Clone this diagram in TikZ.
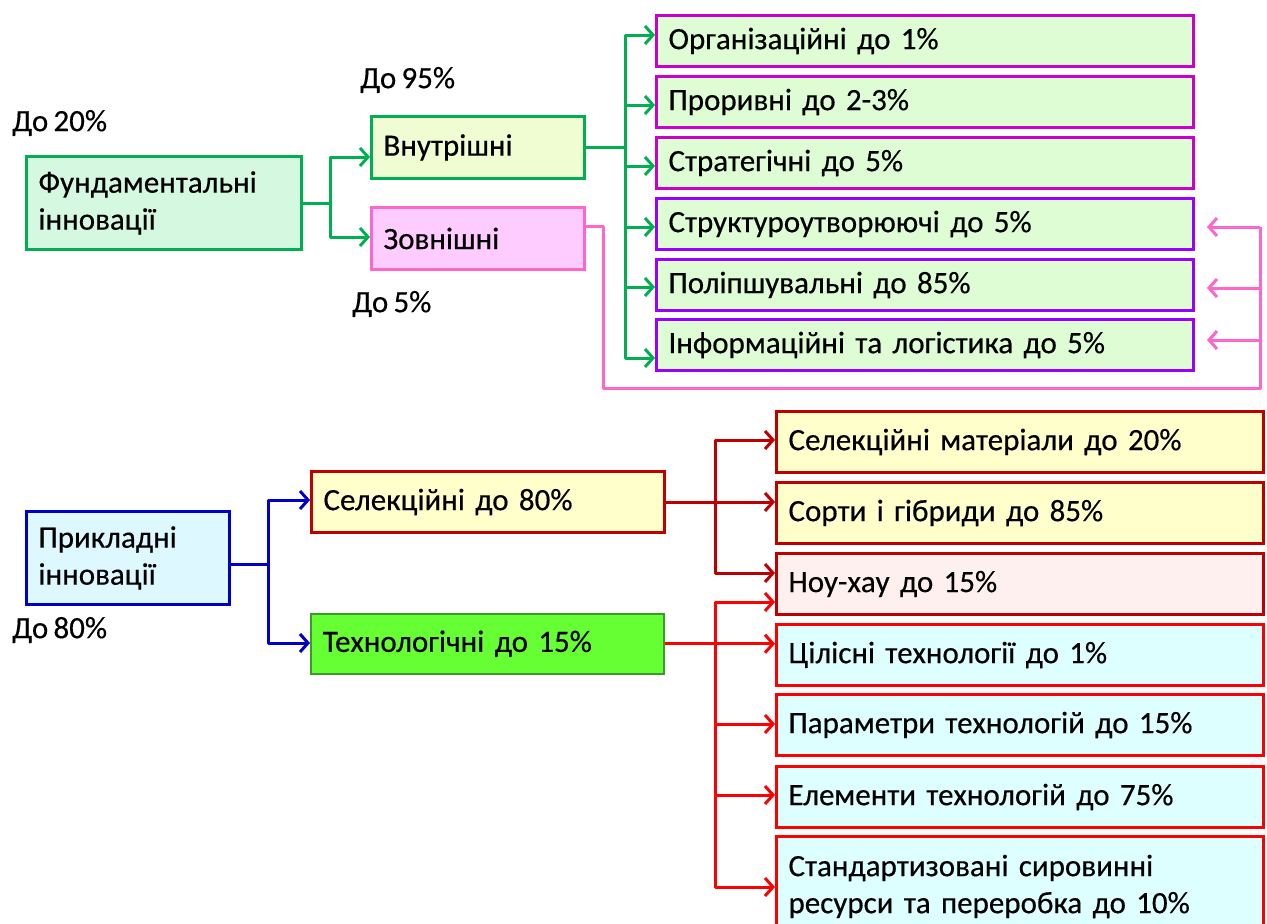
\documentclass[tikz,border=0pt]{standalone}
\usepackage{fontspec}
\setmainfont{Carlito}[FakeBold=0.4,WordSpace=0.75]
\usetikzlibrary{arrows.meta,calc}
\definecolor{cGreen}{HTML}{00B050}
\definecolor{cFundFill}{HTML}{D5F8E0}
\definecolor{cVnFill}{HTML}{F0FCD2}
\definecolor{cPink}{HTML}{FF66CC}
\definecolor{cZvFill}{HTML}{FFCCFF}
\definecolor{cMag}{HTML}{CC00CC}
\definecolor{cViol}{HTML}{9900FF}
\definecolor{cRFill}{HTML}{DEFDD5}
\definecolor{cBlue}{HTML}{0000CC}
\definecolor{cPrFill}{HTML}{DDF9FF}
\definecolor{cDRed}{HTML}{C00000}
\definecolor{cRed}{HTML}{FF0000}
\definecolor{cYel}{HTML}{FFFFCC}
\definecolor{cTech}{HTML}{66FF33}
\definecolor{cTechB}{HTML}{3A9A2A}
\definecolor{cRose}{HTML}{FFF0F0}
\definecolor{cCyan}{HTML}{DDFFFF}
\begin{document}
\begin{tikzpicture}[x=1pt,y=-1pt,
  font=\fontsize{31}{37}\selectfont,
  box/.style={draw, line width=3pt, rectangle, anchor=north west, align=left, inner xsep=12pt, inner ysep=0pt},
  conn/.style={line width=3pt, line join=round},
  arr/.style={-{Straight Barb[length=8pt,width=18pt]}},
  lbl/.style={anchor=west, inner sep=0pt}
]
\clip (0,0) rectangle (1267,924);
\fill[white] (0,0) rectangle (1267,924);

% top section boxes
\node[box, draw=cGreen, fill=cFundFill, text width=251pt, minimum height=93pt] (fund) at (25,155) {Фундаментальні\\інновації};
\node[box, draw=cGreen, fill=cVnFill, text width=189pt, minimum height=62pt] (vn) at (370,115) {Внутрішні};
\node[box, draw=cPink, fill=cZvFill, text width=189pt, minimum height=62pt] (zv) at (370,206) {Зовнішні};

\node[box, draw=cMag, fill=cRFill, text width=513pt, minimum height=51pt] (r1) at (655,14) {Організаційні до 1\%};
\node[box, draw=cMag, fill=cRFill, text width=513pt, minimum height=51pt] (r2) at (655,75) {Проривні до 2-3\%};
\node[box, draw=cMag, fill=cRFill, text width=513pt, minimum height=51pt] (r3) at (655,136) {Стратегічні до 5\%};
\node[box, draw=cViol, fill=cRFill, text width=513pt, minimum height=51pt] (r4) at (655,197) {Структуроутворюючі до 5\%};
\node[box, draw=cViol, fill=cRFill, text width=513pt, minimum height=51pt] (r5) at (655,258) {Поліпшувальні до 85\%};
\node[box, draw=cViol, fill=cRFill, text width=513pt, minimum height=51pt] (r6) at (655,318) {Інформаційні та логістика до 5\%};

\node[lbl] (l20) at (12,123) {До 20\%};
\node[lbl] (l95) at (360,80) {До 95\%};
\node[lbl] (l5) at (352,304) {До 5\%};
\node[lbl] (l80) at (12,630) {До 80\%};

% bottom section boxes
\node[box, draw=cBlue, fill=cPrFill, text width=179pt, minimum height=93pt] (pr) at (25,510) {Прикладні\\інновації};
\node[box, draw=cDRed, fill=cYel, text width=329pt, minimum height=61pt] (se) at (310,470) {Селекційні до 80\%};
\node[box, draw=cTechB, line width=1.5pt, fill=cTech, text width=329pt, minimum height=60pt] (te) at (310,613) {Технологічні до 15\%};

\node[box, draw=cDRed, fill=cYel, text width=463pt, minimum height=61pt] (q1) at (775,410) {Селекційні матеріали до 20\%};
\node[box, draw=cDRed, fill=cYel, text width=463pt, minimum height=61pt] (q2) at (775,481) {Сорти і гібриди до 85\%};
\node[box, draw=cDRed, fill=cRose, text width=463pt, minimum height=61pt] (q3) at (775,552) {Ноу-хау до 15\%};
\node[box, draw=cRed, fill=cCyan, text width=463pt, minimum height=61pt] (q4) at (775,623) {Цілісні технології до 1\%};
\node[box, draw=cRed, fill=cCyan, text width=463pt, minimum height=61pt] (q5) at (775,693) {Параметри технологій до 15\%};
\node[box, draw=cRed, fill=cCyan, text width=463pt, minimum height=61pt] (q6) at (775,765) {Елементи технологій до 75\%};
\node[box, draw=cRed, fill=cCyan, text width=463pt, minimum height=100pt] (q7) at (775,835) {Стандартизовані сировинні\\ресурси та переробка до 10\%};

% green connectors
\coordinate (g1) at (330,157);
\coordinate (g2) at (330,237);
\draw[conn, draw=cGreen, arr] (fund.east) -| (g1) -- (g1 -| vn.west);
\draw[conn, draw=cGreen, arr] (fund.east) -| (g2) -- (g2 -| zv.west);

\foreach \i/\y in {1/35,2/105,3/166,4/227,5/287,6/358} {\coordinate (t\i) at (625,\y);}
\foreach \i in {1,...,6} {\draw[conn, draw=cGreen, arr] (vn.east) -| (t\i) -- (t\i -| r\i.west);}

% pink connector
\coordinate (pa) at (603,226);
\coordinate (pc) at (1260,388);
\foreach \i/\y in {4/227,5/288,6/340} {\coordinate (p\i) at (1260,\y);}
\draw[conn, draw=cPink] (zv.east |- pa) -- (pa) |- (pc) -- (p4);
\foreach \i in {4,5,6} {\draw[conn, draw=cPink, arr] (p\i) -- ($(p\i -| r\i.east)+(12,0)$);}

% blue connectors
\coordinate (u1) at (268,500);
\coordinate (u2) at (268,643);
\draw[conn, draw=cBlue, arr] ($(pr.east)+(0,6)$) -| (u1) -- (u1 -| se.west);
\draw[conn, draw=cBlue, arr] ($(pr.east)+(0,6)$) -| (u2) -- (u2 -| te.west);

% dark red connectors
\coordinate (d1) at (715,440);
\coordinate (d3) at (715,573);
\draw[conn, draw=cDRed, arr] (se.east) -| (d1) -- (d1 -| q1.west);
\draw[conn, draw=cDRed, arr] (se.east) -- (se.east -| q2.west);
\draw[conn, draw=cDRed, arr] (se.east) -| (d3) -- (d3 -| q3.west);

% red connectors
\coordinate (e1) at (715,602);
\coordinate (e3) at (715,724);
\coordinate (e4) at (715,795);
\coordinate (e5) at (715,887);
\draw[conn, draw=cRed, arr] (te.east) -| (e1) -- (e1 -| q3.west);
\draw[conn, draw=cRed, arr] (te.east) -- (te.east -| q4.west);
\draw[conn, draw=cRed, arr] (te.east) -| (e3) -- (e3 -| q5.west);
\draw[conn, draw=cRed, arr] (te.east) -| (e4) -- (e4 -| q6.west);
\draw[conn, draw=cRed, arr] (te.east) -| (e5) -- (e5 -| q7.west);
\end{tikzpicture}
\end{document}
